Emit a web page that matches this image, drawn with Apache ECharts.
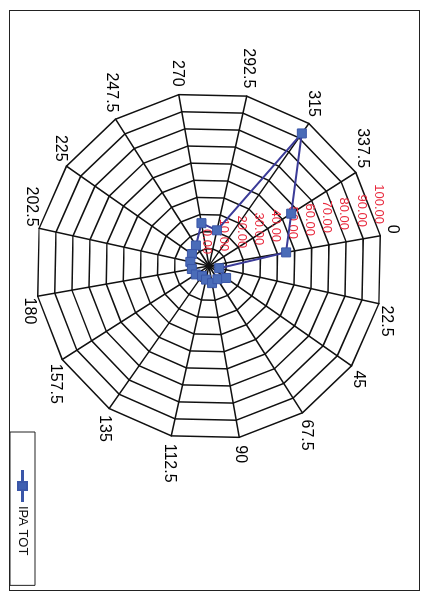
<!DOCTYPE html>
<html><head><meta charset="utf-8">
<script src="https://cdn.jsdelivr.net/npm/echarts@6/dist/echarts.min.js"></script>
<style>
html,body{margin:0;padding:0;background:#fff;width:429px;height:597px;overflow:hidden;}
#frame{position:absolute;left:9px;top:10px;width:411px;height:581px;border:1.5px solid #222;box-sizing:border-box;}
#chart{position:absolute;width:597px;height:429px;left:-84px;top:84px;transform:rotate(90deg);transform-origin:50% 50%;}
</style></head><body>
<div id="frame"></div>
<div id="chart"></div>
<script>
// Directions (degrees), clockwise from the first axis in the original chart
const directions = ['0','22.5','45','67.5','90','112.5','135','157.5','180','202.5','225','247.5','270','292.5','315','337.5'];
// IPA TOT values per direction
const ipaTot = [45, 6, 12, 9, 10, 8, 7, 9, 10, 11, 12, 14, 25, 21, 93, 56];
// Radial tick labels
const tickLabels = ['0.00','10.00','20.00','30.00','40.00','50.00','60.00','70.00','80.00','90.00','100.00'];
const seriesName = 'IPA TOT';

// ECharts radar runs counter-clockwise; reorder so the chart runs clockwise
const order = [0];
for (let i = directions.length - 1; i >= 1; i--) order.push(i);

const indicators = order.map((i, k) => {
  const ind = { name: directions[i], min: 0, max: 100 };
  if (k === 0) {
    ind.axisLabel = {
      show: true, color: '#e8283c', fontSize: 13, fontFamily: 'Liberation Sans',
      margin: 12,
      formatter: v => tickLabels[Math.round(v / 10)]
    };
  }
  return ind;
});
const values = order.map(i => ipaTot[i]);

const chart = echarts.init(document.getElementById('chart'), null, {renderer: 'canvas'});
chart.setOption({
  animation: false,
  backgroundColor: 'transparent',
  legend: {
    show: true,
    data: [{
      name: seriesName,
      icon: 'path://M0,4L11,4L11,0L19,0L19,4L30,4L30,5L19,5L19,9L11,9L11,5L0,5Z'
    }],
    left: 432, top: 394,
    orient: 'horizontal',
    padding: [6, 30, 6, 38],
    borderColor: '#222', borderWidth: 1,
    itemWidth: 30, itemHeight: 9,
    itemStyle: {color: '#3f5fb0'},
    textStyle: {color: '#111', fontSize: 13, fontFamily: 'Liberation Sans'}
  },
  radar: {
    center: [266, 220],
    radius: 174,
    startAngle: 100,
    shape: 'polygon',
    splitNumber: 10,
    nameGap: 8,
    axisName: {color: '#000', fontSize: 16, fontFamily: 'Liberation Sans'},
    axisLine: {show: true, lineStyle: {color: '#111', width: 1.5}},
    splitLine: {show: true, lineStyle: {color: '#111', width: 1.5}},
    splitArea: {show: false},
    axisTick: {show: false},
    axisLabel: {show: false},
    indicator: indicators
  },
  series: [{
    type: 'radar',
    name: seriesName,
    symbol: 'rect',
    symbolSize: 9,
    lineStyle: {color: '#3b3b98', width: 2},
    itemStyle: {color: '#4a6cb8', borderColor: '#3a56a8', borderWidth: 1},
    data: [{value: values, name: seriesName}]
  }]
});
</script>
</body></html>
